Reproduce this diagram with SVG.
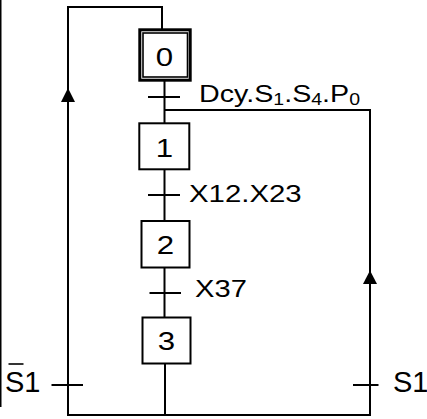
<svg xmlns="http://www.w3.org/2000/svg" width="427" height="419" viewBox="0 0 427 419">
<style>
.ln{fill:none;stroke:#000;stroke-width:2}
.box{fill:#fff;stroke:#000;stroke-width:2}
.t{font-family:"Liberation Sans",Arial,sans-serif;fill:#000}
.num{font-size:26px;text-anchor:middle}
.lab{font-size:23.5px}
.sub{font-size:16px}
.big{font-size:29px}
</style>
<rect x="0" y="0" width="1.5" height="407" fill="#000"/>
<g id="connectors">
<polyline class="ln" points="68,415 68,7 162,7 162,29"/>
<line class="ln" x1="164.5" y1="81" x2="164.5" y2="123"/>
<polyline class="ln" points="164.5,110 370,110 370,415"/>
<line class="ln" x1="164.5" y1="169" x2="164.5" y2="221"/>
<line class="ln" x1="164.5" y1="267" x2="164.5" y2="317"/>
<line class="ln" x1="165" y1="364" x2="165" y2="415"/>
<line class="ln" x1="67" y1="415" x2="371" y2="415"/>
<path d="M61,102 L68,88 L75,102 Z" fill="#000"/>
<path d="M363,284 L370,270.5 L377,284 Z" fill="#000"/>
<line class="ln" x1="148" y1="97" x2="180" y2="97"/>
<line class="ln" x1="148" y1="195" x2="180" y2="195"/>
<line class="ln" x1="149.5" y1="293" x2="181" y2="293"/>
<line class="ln" x1="51.5" y1="385" x2="83" y2="385"/>
<line class="ln" x1="353" y1="385" x2="378.5" y2="385"/>
<g id="t0"><text class="t lab" transform="translate(199,102) scale(1.22,1)">Dcy.S<tspan class="sub" dy="3">1</tspan><tspan dy="-3">.S</tspan><tspan class="sub" dy="3">4</tspan><tspan dy="-3">.P</tspan><tspan class="sub" dy="3">0</tspan></text></g>
<g id="t1"><text class="t lab" transform="translate(189,202) scale(1.25,1)">X12.X23</text></g>
<g id="t2"><text class="t lab" transform="translate(195,297) scale(1.24,1)">X37</text></g>
<g id="t3"><text class="t big" x="5" y="392">S1</text><line x1="8.5" y1="364" x2="23.5" y2="364" stroke="#000" stroke-width="1.6"/></g>
<g id="t4"><text class="t big" x="393" y="392">S1</text></g>
</g>
<g id="step0">
<rect x="139.8" y="29.8" width="50.4" height="50.4" fill="#fff" stroke="#000" stroke-width="3"/>
<rect x="143" y="33" width="44.5" height="44" fill="none" stroke="#000" stroke-width="1.6"/>
<text class="t num" transform="translate(164.5,65.8) scale(1.2,1)">0</text>
</g>
<g id="step1">
<rect class="box" x="139.3" y="123.3" width="50" height="46"/>
<text class="t num" transform="translate(164.5,156.8) scale(1.2,1)">1</text>
</g>
<g id="step2">
<rect class="box" x="141.5" y="221" width="48" height="46.5"/>
<text class="t num" transform="translate(165.5,253.5) scale(1.2,1)">2</text>
</g>
<g id="step3">
<rect class="box" x="142.5" y="317.5" width="48" height="46"/>
<text class="t num" transform="translate(166.5,350.2) scale(1.2,1)">3</text>
</g>
</svg>
